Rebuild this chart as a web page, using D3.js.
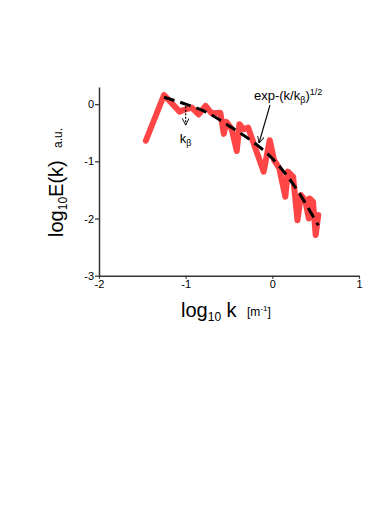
<!DOCTYPE html>
<html>
<head>
<meta charset="utf-8">
<script src="https://cdn.jsdelivr.net/npm/d3@7"></script>
<style>
  body { margin: 0; background: #fff; }
  text { font-family: "Liberation Sans", Arial, sans-serif; fill: #000; }
</style>
</head>
<body>
<script>
// spectrum (log10 k, log10 E)
var logK = [-1.46, -1.25, -1.07, -1.00, -0.93, -0.85, -0.77, -0.70, -0.60, -0.56,
            -0.53, -0.47, -0.41, -0.38, -0.33, -0.28, -0.10, -0.03, 0.02, 0.08,
            0.15, 0.18, 0.24, 0.29, 0.33, 0.38, 0.42, 0.43, 0.47, 0.50, 0.53];
var logE = [-0.64, 0.16, -0.13, -0.09, -0.06, -0.18, -0.03, -0.16, -0.15, -0.52,
            -0.31, -0.43, -0.82, -0.35, -0.44, -0.41, -1.18, -0.63, -0.98, -1.12,
            -1.62, -1.18, -1.27, -2.03, -1.59, -1.68, -2.00, -1.65, -1.71, -2.29, -1.94];

// fitted curve exp-(k/kb)^1/2
var fitK = [-1.25, -1.00, -0.75, -0.50, -0.25, 0.00, 0.25, 0.53];
var fitE = [0.12, 0.00, -0.15, -0.38, -0.63, -0.95, -1.42, -2.12];

var kBeta = -1.0;
var xTicks = [-2, -1, 0, 1];
var yTicks = [-3, -2, -1, 0];

var width = 390, height = 510;

var svg = d3.select("body")
    .append("svg")
    .attr("width", width)
    .attr("height", height);

var x = d3.scaleLinear().domain([-2, 1]).range([99, 359]);
var y = d3.scaleLinear().domain([-3, 0.3]).range([275.7, 87]);

// axes
var xAxis = svg.append("g")
    .attr("transform", "translate(0," + y(-3) + ")")
    .call(d3.axisBottom(x).tickValues(xTicks).tickSize(3).tickSizeOuter(0)
        .tickFormat(function (d) { return String(d); }));

var yAxis = svg.append("g")
    .attr("transform", "translate(" + x(-2) + ",0)")
    .call(d3.axisLeft(y).tickValues(yTicks).tickSize(4).tickSizeOuter(0)
        .tickFormat(function (d) { return String(d); }));

[xAxis, yAxis].forEach(function (g) {
    g.select(".domain").attr("stroke", "#333").attr("stroke-width", 1.5);
    g.selectAll(".tick line").attr("stroke", "#333").attr("stroke-width", 1.2);
    g.selectAll(".tick text")
        .style("font-family", "'Liberation Sans', Arial, sans-serif")
        .style("font-size", "11px")
        .attr("fill", "#000");
});
xAxis.selectAll(".tick text").attr("dy", "0.6em");
yAxis.selectAll(".tick text").attr("x", -5);

// red spectrum
var line = d3.line()
    .x(function (d, i) { return x(logK[i]); })
    .y(function (d, i) { return y(logE[i]); });

svg.append("path")
    .attr("d", line(logK))
    .attr("fill", "none")
    .attr("stroke", "#ff4545")
    .attr("stroke-width", 6)
    .attr("stroke-linejoin", "round")
    .attr("stroke-linecap", "round");

// dashed fit
var fitLine = d3.line()
    .curve(d3.curveMonotoneX)
    .x(function (d, i) { return x(fitK[i]); })
    .y(function (d, i) { return y(fitE[i]); });

svg.append("path")
    .attr("d", fitLine(fitK))
    .attr("fill", "none")
    .attr("stroke", "#000")
    .attr("stroke-width", 3)
    .attr("stroke-dasharray", "11,6");

// arrow markers
var defs = svg.append("defs");
defs.append("marker")
    .attr("id", "head")
    .attr("viewBox", "0 0 10 10")
    .attr("refX", 10).attr("refY", 5)
    .attr("markerWidth", 7).attr("markerHeight", 7)
    .attr("markerUnits", "userSpaceOnUse")
    .attr("orient", "auto")
    .append("path")
    .attr("d", "M0,0 L10,5 L0,10")
    .attr("fill", "none")
    .attr("stroke", "#000")
    .attr("stroke-width", 1.3);

// k_beta dotted arrow
svg.append("line")
    .attr("x1", x(kBeta)).attr("y1", y(0) + 2)
    .attr("x2", x(kBeta)).attr("y2", y(0) + 21)
    .attr("stroke", "#000")
    .attr("stroke-width", 1.2)
    .attr("stroke-dasharray", "2,1.5")
    .attr("marker-end", "url(#head)");

var kb = svg.append("text")
    .attr("x", x(kBeta) - 6)
    .attr("y", 143)
    .style("font-size", "13px");
kb.append("tspan").text("k");
kb.append("tspan").attr("dy", 3).style("font-size", "9px").text("β");

// formula label and arrow
var f = svg.append("text")
    .attr("x", 254)
    .attr("y", 100)
    .style("font-size", "13px");
f.append("tspan").text("exp-(k/k");
f.append("tspan").attr("dy", 3).style("font-size", "9px").text("β");
f.append("tspan").attr("dy", -3).text(")");
f.append("tspan").attr("dy", -5).style("font-size", "9px").text("1/2");

svg.append("line")
    .attr("x1", 270).attr("y1", 105)
    .attr("x2", 259).attr("y2", 143)
    .attr("stroke", "#000")
    .attr("stroke-width", 1.1)
    .attr("marker-end", "url(#head)");

// y label
var yl = svg.append("text")
    .attr("transform", "translate(63,237) rotate(-90)")
    .style("font-size", "20px");
yl.append("tspan").text("log");
yl.append("tspan").attr("dy", 4).style("font-size", "12px").text("10");
yl.append("tspan").attr("dy", -4).text("E(k)");
svg.append("text")
    .attr("transform", "translate(62,148) rotate(-90)")
    .style("font-size", "12px")
    .text("a.u.");

// x label
var xl = svg.append("text")
    .attr("x", 181)
    .attr("y", 317)
    .style("font-size", "20px");
xl.append("tspan").text("log");
xl.append("tspan").attr("dy", 4).style("font-size", "12px").text("10");
xl.append("tspan").attr("dy", -4).text(" k");

var xu = svg.append("text")
    .attr("x", 247)
    .attr("y", 316)
    .style("font-size", "12px");
xu.append("tspan").text("[m");
xu.append("tspan").attr("dy", -5).style("font-size", "8px").text("-1");
xu.append("tspan").attr("dy", 5).text("]");
</script>
</body>
</html>
